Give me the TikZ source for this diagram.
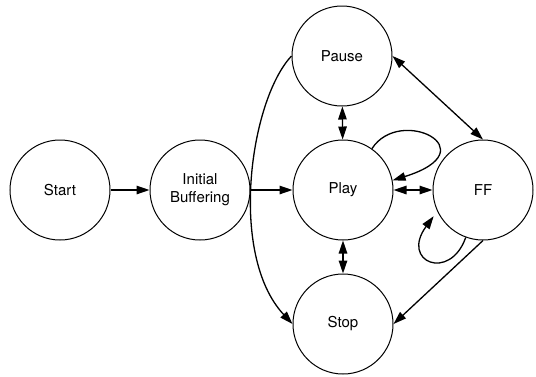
\documentclass[tikz,border=0pt]{standalone}
\usepackage{fontspec}
\setmainfont{TeX Gyre Heros}
\usetikzlibrary{arrows.meta}

\begin{document}
\begin{tikzpicture}[x=1pt,y=-1pt,
  state/.style={draw, circle, minimum size=100pt, inner sep=0pt,
    line width=1pt, align=center,
    font=\fontsize{15}{18}\selectfont},
  head/.tip={Triangle[length=13pt,width=8.5pt]},
  arr/.style={line width=1.3pt, -head},
  darr/.style={line width=1.3pt, head-head}]

\useasboundingbox (0,0) rectangle (536,376);

% states
\node[state] (start) at (60,190)  {Start};
\node[state] (ib)    at (200,190) {Initial\\Buffering};
\node[state] (pause) at (342,56)  {Pause};
\node[state] (play)  at (343,190) {Play};
\node[state] (stop)  at (343,324) {Stop};
\node[state] (ff)    at (483,190) {FF};

% transitions
\draw[arr]  (start) -- (ib);
\draw[arr]  (ib) -- (play);
\draw[darr] (pause) -- (play);
\draw[darr] (play) -- (stop);
\draw[darr] (play) -- (ff);
\draw[darr] (pause.east) -- (ff.north);
\draw[arr]  (ff.south) -- (stop.east);
\draw[arr]  (pause.west) .. controls (250,100) and (228,255) .. (stop.west);

% self loops
\draw[arr] (play.55) .. controls (400,105) and (490,150) .. (play.11);
\draw[arr, shorten >=6pt] (ff.250) .. controls (450,282) and (400,262) .. (ff.205);
\end{tikzpicture}
\end{document}
